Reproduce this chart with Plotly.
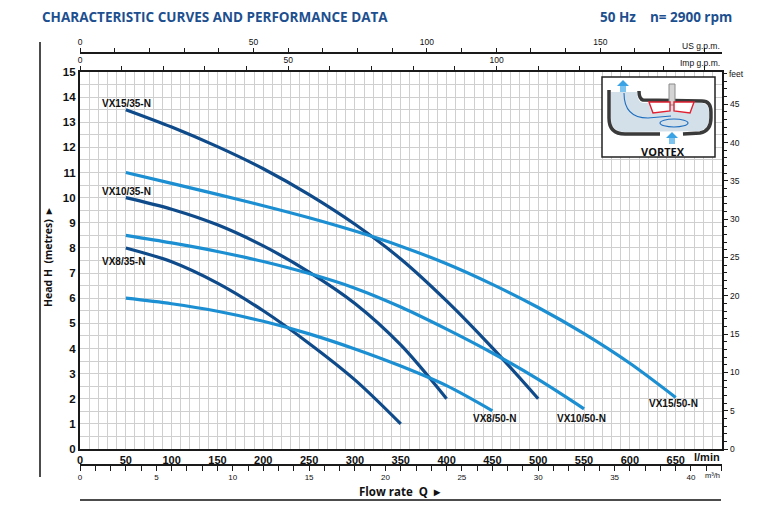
import plotly.graph_objects as go

W, H = 773, 523
PAGE_PAD = 8  # body margin of the html page, the screenshot is taken of the page

# pump curves, flow in l/min, head in metres
vx15_35_q = [50, 100, 150, 200, 250, 300, 350, 400, 450, 500]
vx15_35_h = [13.5, 12.81, 12.03, 11.15, 10.12, 8.94, 7.56, 5.89, 4.02, 2.0]

vx15_50_q = [50, 100, 150, 200, 250, 300, 350, 400, 450, 500, 550, 600, 650]
vx15_50_h = [11.0, 10.57, 10.13, 9.68, 9.2, 8.67, 8.07, 7.37, 6.55, 5.63, 4.59, 3.41, 2.05]

vx10_35_q = [50, 100, 150, 200, 250, 300, 350, 400]
vx10_35_h = [10.0, 9.54, 8.92, 8.08, 7.04, 5.79, 4.14, 2.0]

vx10_50_q = [50, 100, 150, 200, 250, 300, 350, 400, 450, 500, 550]
vx10_50_h = [8.5, 8.2, 7.86, 7.46, 6.98, 6.4, 5.65, 4.77, 3.82, 2.77, 1.6]

vx8_35_q = [50, 100, 150, 200, 250, 300, 350]
vx8_35_h = [8.0, 7.45, 6.6, 5.5, 4.2, 2.75, 1.0]

vx8_50_q = [50, 100, 150, 200, 250, 300, 350, 400, 450]
vx8_50_h = [6.0, 5.78, 5.48, 5.08, 4.58, 3.98, 3.3, 2.52, 1.52]

lmin_ticks = [0, 50, 100, 150, 200, 250, 300, 350, 400, 450, 500, 550, 600, 650]
head_ticks = list(range(0, 16))
m3h_ticks = [0, 5, 10, 15, 20, 25, 30, 35, 40]
usgpm_ticks = [0, 50, 100, 150]
impgpm_ticks = [0, 50, 100, 150]
impgpm_text = ['0', '50', '100', '']
feet_ticks = [0, 5, 10, 15, 20, 25, 30, 35, 40, 45]

Q_MAX = 700
H_MAX = 15
L_PER_USG = 3.785
L_PER_IMPG = 4.546
FT_PER_M = 3.28084

DARK = '#0f4b8a'
LIGHT = '#1b8fd2'
TITLE_BLUE = '#1d4f8f'
GRID = '#cfcfcf'
SANS = 'Liberation Sans, Arial, sans-serif'
HEAD_FONT = 'Open Sans, Liberation Sans, sans-serif'


def px(x):
    return (x - PAGE_PAD) / W


def py(y):
    return (H - (y - PAGE_PAD)) / H


def pt(x, y):
    return f"{px(x):.4f},{py(y):.4f}"


def path(cmds):
    out = []
    for c in cmds:
        if isinstance(c, str):
            out.append(c)
        else:
            out.append(pt(*c))
    return ' '.join(out)


fig = go.Figure()

curves = [
    (vx15_35_q, vx15_35_h, DARK),
    (vx15_50_q, vx15_50_h, LIGHT),
    (vx10_35_q, vx10_35_h, DARK),
    (vx10_50_q, vx10_50_h, LIGHT),
    (vx8_35_q, vx8_35_h, DARK),
    (vx8_50_q, vx8_50_h, LIGHT),
]
for q, h, col in curves:
    fig.add_trace(go.Scatter(x=q, y=h, mode='lines', line=dict(color=col, width=3.2, shape='spline', smoothing=0.9),
                             showlegend=False, hoverinfo='skip'))

# invisible traces so the extra axes get drawn
for xa, ya, rng in [('x2', 'y', Q_MAX / L_PER_IMPG), ('x3', 'y', Q_MAX / L_PER_USG),
                    ('x4', 'y', Q_MAX * 0.06), ('x', 'y2', 1)]:
    fig.add_trace(go.Scatter(x=[0, rng], y=[None, None], xaxis=xa, yaxis=ya,
                             mode='lines', showlegend=False, hoverinfo='skip'))

x0, x1 = px(80), px(721.5)
y0, y1 = py(449), py(72)


def side_axis(**kw):
    d = dict(showgrid=False, zeroline=False, showline=True, linecolor='#1a1a1a', linewidth=1.5,
             ticks='outside', tickwidth=1, tickcolor='#1a1a1a', automargin=False, fixedrange=True)
    d.update(kw)
    return d


fig.update_layout(
    width=W, height=H, autosize=False,
    margin=dict(l=0, r=0, t=0, b=0, autoexpand=False),
    paper_bgcolor='white', plot_bgcolor='white',
    showlegend=False,
    xaxis=dict(domain=[x0, x1], range=[0, Q_MAX], tickvals=lmin_ticks, ticks='', showgrid=True,
               gridcolor=GRID, gridwidth=1, minor=dict(dtick=10, showgrid=True, gridcolor=GRID, gridwidth=1),
               showline=True, linecolor='#1a1a1a', linewidth=2.2, zeroline=False, automargin=False,
               tickfont=dict(family=SANS, size=11, color='#111', weight='bold'), fixedrange=True),
    yaxis=dict(domain=[y0, y1], range=[0, H_MAX], tickvals=head_ticks, ticks='', showgrid=True,
               gridcolor=GRID, gridwidth=1, minor=dict(dtick=0.5, showgrid=True, gridcolor=GRID, gridwidth=1),
               showline=True, linecolor='#1a1a1a', linewidth=2.2, zeroline=False, automargin=False,
               tickfont=dict(family=SANS, size=11.5, color='#111', weight='bold'), fixedrange=True),
    xaxis2=side_axis(overlaying='x', anchor='y', side='top', range=[0, Q_MAX / L_PER_IMPG],
                     tickvals=impgpm_ticks, ticktext=impgpm_text, ticklen=4,
                     minor=dict(dtick=10, ticks='outside', ticklen=4, tickwidth=1, showgrid=False),
                     tickfont=dict(family=SANS, size=8.5, color='#111')),
    xaxis3=side_axis(overlaying='x', anchor='free', position=py(53), side='top', range=[0, Q_MAX / L_PER_USG],
                     tickvals=usgpm_ticks, ticklen=4,
                     minor=dict(dtick=10, ticks='outside', ticklen=4, tickwidth=1, showgrid=False),
                     tickfont=dict(family=SANS, size=8.5, color='#111')),
    xaxis4=side_axis(overlaying='x', anchor='free', position=py(465), side='bottom', range=[0, Q_MAX * 0.06],
                     tickvals=m3h_ticks, ticklen=5,
                     minor=dict(dtick=1, ticks='outside', ticklen=5, tickwidth=1, showgrid=False),
                     tickfont=dict(family=SANS, size=8, color='#111')),
    yaxis2=side_axis(overlaying='y', anchor='x', side='right', range=[0, H_MAX * FT_PER_M],
                     tickvals=feet_ticks, ticklen=5,
                     minor=dict(dtick=1, ticks='outside', ticklen=4, tickwidth=1, showgrid=False),
                     tickfont=dict(family=SANS, size=8.5, color='#111')),
)

ann = []


def text(x, y, s, size=10, bold=True, color='#111', xanchor='center', family=SANS, angle=0):
    ann.append(dict(x=px(x), y=py(y), xref='paper', yref='paper', text=f'<b>{s}</b>' if bold else s,
                    showarrow=False, xanchor=xanchor, yanchor='middle', textangle=angle,
                    font=dict(family=family, size=size, color=color)))


text(40, 17, 'CHARACTERISTIC CURVES AND PERFORMANCE DATA', size=13.5, color=TITLE_BLUE,
     xanchor='left', family=HEAD_FONT)
text(734, 17, '50 Hz&nbsp;&nbsp;&nbsp; n= 2900 rpm', size=13.5, color=TITLE_BLUE,
     xanchor='right', family=HEAD_FONT)

# curve names
text(100, 103, 'VX15/35-N', xanchor='left')
text(100, 191, 'VX10/35-N', xanchor='left')
text(100, 261, 'VX8/35-N', xanchor='left')
text(494, 418, 'VX8/50-N')
text(581, 418, 'VX10/50-N')
text(673, 404, 'VX15/50-N')

# axis unit labels
text(722, 46, 'US g.p.m.', size=8.5, bold=False, xanchor='right')
text(722, 63, 'Imp g.p.m.', size=8.5, bold=False, xanchor='right')
text(722, 457, 'l/min', size=11, xanchor='right')
text(722, 475, 'm³/h', size=7.5, bold=False, xanchor='right')
text(727, 74, 'feet', size=8.5, bold=False, xanchor='left')
text(400, 491, 'Flow rate&nbsp;&nbsp;Q&nbsp;&nbsp;▸', size=11.5, family=HEAD_FONT)
text(48, 258, 'Head H&nbsp;&nbsp;(metres)&nbsp;&nbsp;▸', size=10.5, family=HEAD_FONT, angle=-90)
text(663, 151, 'VORTEX', size=11, family=HEAD_FONT)

P = dict(xref='paper', yref='paper')
shapes = [
    # frame decoration
    dict(type='line', x0=px(40), x1=px(40), y0=py(42), y1=py(477), line=dict(color='#111', width=1.5), **P),
    dict(type='line', x0=px(80), x1=px(721), y0=py(500), y1=py(500), line=dict(color='#111', width=1.5), **P),
    # vortex inset
    dict(type='rect', x0=px(602), x1=px(715), y0=py(157), y1=py(77), fillcolor='white',
         line=dict(color='#222', width=1.5), **P),
    dict(type='path', path=path(['M', (611, 92), 'L', (611, 118), 'Q', (611, 131), (624, 132), 'L', (700, 131),
                                 'Q', (709, 129), (709, 118), 'L', (709, 112), 'Q', (709, 104), (702, 103),
                                 'L', (643, 103), 'Q', (637, 102), (637, 92), 'Z']),
         fillcolor='#d3e0ea', line=dict(width=0), **P),
    dict(type='path', path=path(['M', (609, 90), 'L', (609, 118), 'Q', (609, 134), (625, 134), 'L', (660, 134)]),
         line=dict(color='#3a3a3a', width=3.5), **P),
    dict(type='path', path=path(['M', (683, 134), 'L', (700, 133), 'Q', (711, 131), (711, 118), 'L', (711, 112),
                                 'Q', (711, 101), (702, 101), 'L', (643, 100), 'Q', (639, 99), (639, 91)]),
         line=dict(color='#3a3a3a', width=3.5), **P),
    dict(type='rect', x0=px(669), x1=px(675), y0=py(105), y1=py(84), fillcolor='#d4d4d4',
         line=dict(color='#8a8a8a', width=1), **P),
    dict(type='path', path=path(['M', (649, 102), 'L', (670, 102), 'L', (670, 111), 'L', (653, 113), 'Z']),
         fillcolor='white', line=dict(color='#e02030', width=1.4), **P),
    dict(type='path', path=path(['M', (674, 102), 'L', (694, 102), 'L', (690, 113), 'L', (674, 111), 'Z']),
         fillcolor='white', line=dict(color='#e02030', width=1.4), **P),
    dict(type='path', path=path(['M', (624, 93), 'Q', (624, 118), (648, 118), 'L', (671, 116)]),
         line=dict(color='#1f6fc0', width=1.1), **P),
    dict(type='circle', x0=px(660), x1=px(688), y0=py(127), y1=py(119),
         line=dict(color='#1f6fc0', width=1.1), **P),
    dict(type='path', path=path(['M', (617, 86), 'L', (623, 80), 'L', (629, 86), 'Z']),
         fillcolor='#3aa3e6', line=dict(width=0), **P),
    dict(type='rect', x0=px(620), x1=px(626), y0=py(92), y1=py(86), fillcolor='#7cc3ef',
         line=dict(width=0), **P),
    dict(type='path', path=path(['M', (666, 138), 'L', (672, 132), 'L', (678, 138), 'Z']),
         fillcolor='#3aa3e6', line=dict(width=0), **P),
    dict(type='rect', x0=px(669), x1=px(675), y0=py(144), y1=py(138), fillcolor='#7cc3ef',
         line=dict(width=0), **P),
]

fig.update_layout(annotations=ann, shapes=shapes)

fig.write_html("out.html")
